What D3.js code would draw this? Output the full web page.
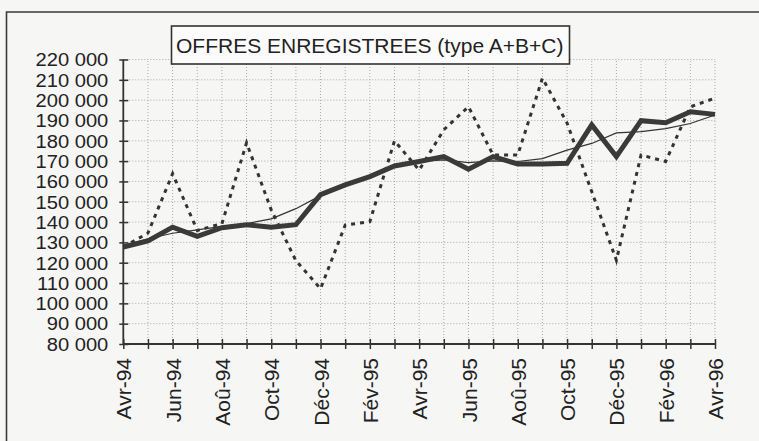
<!DOCTYPE html>
<html>
<head>
<meta charset="utf-8">
<script src="https://cdn.jsdelivr.net/npm/d3@7"></script>
<style>
    body { margin: 0; background: #f6f6f5; }
    svg { display: block; }
    text { font-family: "Liberation Sans", Arial, sans-serif; fill: #222; }
</style>
</head>
<body>
<svg id="chart" width="759" height="441"></svg>
<script>
// months shown on the x axis (one point per month)
const months = ['Avr-94', 'Mai-94', 'Jun-94', 'Jul-94', 'Aoû-94', 'Sep-94', 'Oct-94', 'Nov-94', 'Déc-94',
    'Jan-95', 'Fév-95', 'Mar-95', 'Avr-95', 'Mai-95', 'Jun-95', 'Jul-95', 'Aoû-95', 'Sep-95', 'Oct-95',
    'Nov-95', 'Déc-95', 'Jan-96', 'Fév-96', 'Mar-96', 'Avr-96']

// raw series (dotted)
const brut = [127700, 134600, 163800, 135900, 139200, 179000, 146000, 121000, 107200,
    138500, 140200, 180000, 165600, 185400, 196800, 173000, 173000, 210800, 188700,
    155000, 121200, 173000, 169800, 196700, 201000]

// seasonally adjusted series (thick)
const cvs = [127700, 130700, 137500, 133000, 137200, 138700, 137500, 138700, 153500,
    158300, 162400, 167600, 169800, 172200, 166000, 172200, 168600, 168600, 168900,
    187800, 172200, 189900, 188900, 194300, 193000]

// trend (thin)
const tendance = [128500, 131800, 134500, 136200, 137900, 139200, 141600, 146600, 153000,
    158000, 162500, 167000, 169800, 170600, 169300, 170100, 169800, 171200, 175400,
    178700, 183900, 184500, 186000, 188500, 192700]

const yTicks = d3.range(80000, 220001, 10000)
const title = 'OFFRES ENREGISTREES (type A+B+C)'

const svg = d3.select('#chart')
const fmt = v => d3.format(',')(v).replace(',', ' ')

const x = d3.scalePoint().domain(months).range([123.3, 715])
const y = d3.scaleLinear().domain([80000, 220000]).range([344, 59.5])

// outer frame (only top and left edges visible in the scan)
svg.append('path')
    .attr('d', 'M 6.5 441 L 6.5 12 L 759 12')
    .style('fill', 'none')
    .style('stroke', '#3a3a3a')
    .style('stroke-width', '1.6px')

// grid
var grid = svg.append('g').attr('class', 'grid')
grid.selectAll('line.h')
    .data(yTicks)
    .enter().append('line')
    .attr('x1', x.range()[0]).attr('x2', x.range()[1])
    .attr('y1', d => y(d)).attr('y2', d => y(d))
grid.selectAll('line.v')
    .data(months.slice(1))
    .enter().append('line')
    .attr('x1', d => x(d)).attr('x2', d => x(d))
    .attr('y1', y(80000)).attr('y2', y(220000))
grid.selectAll('line')
    .style('stroke', '#a9a9a9')
    .style('stroke-width', '1px')
    .style('stroke-dasharray', '1,2')

// y axis - labels are packed tight in the scan, so smaller glyphs stretched wider
const yAxis = d3.axisLeft(y).tickValues(yTicks).tickSize(0).tickFormat(fmt)
var gy = svg.append('g').attr('transform', `translate(${x.range()[0]},0)`).call(yAxis)
gy.select('.domain').remove()
gy.selectAll('.tick text')
    .attr('x', -15)
    .attr('dy', '0.36em')
    .style('font-size', '17.5px')
    .style('fill', '#222')
    .each(function () {
        const w = this.getComputedTextLength()
        d3.select(this)
            .attr('textLength', w * 1.15)
            .attr('lengthAdjust', 'spacingAndGlyphs')
    })
gy.selectAll('.tick').append('line')
    .attr('x1', -4).attr('x2', 5)
    .style('stroke', '#333').style('stroke-width', '1.5px')

// x axis
const xAxis = d3.axisBottom(x).tickSize(0).tickFormat((d, i) => i % 2 == 0 ? d : '')
var gx = svg.append('g').attr('transform', `translate(0,${y(80000)})`).call(xAxis)
gx.select('.domain').remove()
gx.selectAll('.tick text')
    .attr('transform', 'translate(0,14) rotate(-90)')
    .attr('x', 0).attr('y', 0)
    .attr('dy', '0.36em')
    .attr('text-anchor', 'end')
    .style('font-size', '21px')
    .style('fill', '#222')
gx.selectAll('.tick').append('line')
    .attr('y1', -5).attr('y2', 5)
    .style('stroke', '#333').style('stroke-width', '1.5px')

// axis lines
svg.append('line')
    .attr('x1', x.range()[0]).attr('x2', x.range()[0])
    .attr('y1', y(80000)).attr('y2', y(220000))
    .style('stroke', '#333').style('stroke-width', '1.8px')
svg.append('line')
    .attr('x1', x.range()[0]).attr('x2', x.range()[1])
    .attr('y1', y(80000)).attr('y2', y(80000))
    .style('stroke', '#333').style('stroke-width', '1.8px')

// series
const line = d3.line().x((d, i) => x(months[i])).y(d => y(d))

svg.append('path')
    .datum(brut)
    .attr('d', line)
    .style('fill', 'none')
    .style('stroke', '#333')
    .style('stroke-width', '3px')
    .style('stroke-dasharray', '4,5')

svg.append('path')
    .datum(tendance)
    .attr('d', line)
    .style('fill', 'none')
    .style('stroke', '#333')
    .style('stroke-width', '1.2px')

svg.append('path')
    .datum(cvs)
    .attr('d', line)
    .style('fill', 'none')
    .style('stroke', '#3a3a3a')
    .style('stroke-width', '5px')
    .style('stroke-linejoin', 'miter')

// title box
var tg = svg.append('g')
tg.append('rect')
    .attr('x', 171.5).attr('y', 26)
    .attr('width', 398).attr('height', 38)
    .style('fill', '#fbfbfb')
    .style('stroke', '#333')
    .style('stroke-width', '1.6px')
tg.append('text')
    .attr('x', 176).attr('y', 53)
    .style('font-size', '21px')
    .text(title)
</script>
</body>
</html>
